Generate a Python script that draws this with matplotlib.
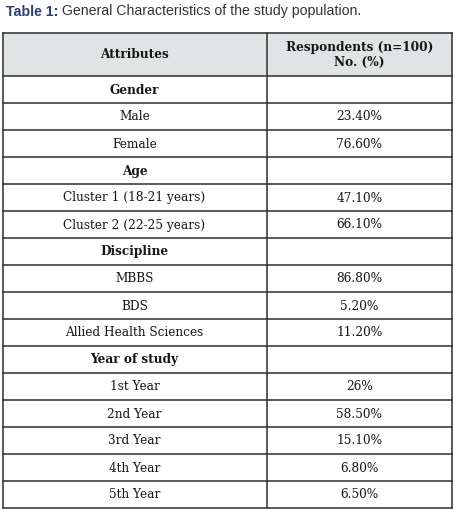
import matplotlib
matplotlib.use("Agg")
import matplotlib.pyplot as plt
from matplotlib.patches import Rectangle
import matplotlib.transforms as mtrans

title_bold = "Table 1:"
title_rest = " General Characteristics of the study population."
header_left = "Attributes"
header_right = "Respondents (n=100)\nNo. (%)"
attributes = ["Gender", "Male", "Female", "Age", "Cluster 1 (18-21 years)",
              "Cluster 2 (22-25 years)", "Discipline", "MBBS", "BDS",
              "Allied Health Sciences", "Year of study", "1st Year", "2nd Year",
              "3rd Year", "4th Year", "5th Year"]
values = ["", "23.40%", "76.60%", "", "47.10%", "66.10%", "", "86.80%",
          "5.20%", "11.20%", "", "26%", "58.50%", "15.10%", "6.80%", "6.50%"]
is_section = [True, False, False, True, False, False, True, False, False,
              False, True, False, False, False, False, False]

W, H = 455, 511
fig = plt.figure(figsize=(W / 100, H / 100), dpi=100)
ax = fig.add_axes([0, 0, 1, 1])
ax.set_xlim(0, W)
ax.set_ylim(H, 0)
ax.axis("off")

left, mid, right = 2.5, 266.5, 452
top, head_bot = 33.5, 76.5
row_h = 27.0
nrows = len(attributes)
bottom = head_bot + row_h * nrows

line_c = "#2e2e2e"
text_c = "#161616"
serif = ["DejaVu Serif"]
fs = 8.7

# title
tfs = 10.2
t = ax.text(6, 11.5, title_bold, fontsize=tfs, fontweight="bold", color="#2c3d7c",
            family=["Liberation Sans"], va="center", ha="left")
fig.canvas.draw()
bb = t.get_window_extent()
ax.text(bb.x1, 11.5, title_rest, fontsize=tfs, color="#333333",
        family=["Liberation Sans"], va="center", ha="left",
        transform=mtrans.blended_transform_factory(mtrans.IdentityTransform(), ax.transData))

# header background
ax.add_patch(Rectangle((left, top), right - left, head_bot - top,
                       facecolor="#dfe4e4", edgecolor="none", zorder=0))

# lines
lw = 1.1
ax.plot([left, right], [top, top], color=line_c, lw=lw)
ax.plot([left, right], [head_bot, head_bot], color=line_c, lw=lw)
for i in range(nrows):
    y = head_bot + row_h * (i + 1)
    ax.plot([left, right], [y, y], color=line_c, lw=lw)
ax.plot([left, left], [top, bottom], color=line_c, lw=lw)
ax.plot([right, right], [top, bottom], color=line_c, lw=lw)
ax.plot([mid, mid], [top, bottom], color=line_c, lw=lw)

cx_l = (left + mid) / 2
cx_r = (mid + right) / 2
ax.text(cx_l, (top + head_bot) / 2, header_left, fontsize=fs, fontweight="bold",
        family=serif, ha="center", va="center", color=text_c)
ax.text(cx_r, (top + head_bot) / 2, header_right, fontsize=fs, fontweight="bold",
        family=serif, ha="center", va="center", color=text_c, linespacing=1.25)

for i, (a, v, s) in enumerate(zip(attributes, values, is_section)):
    yc = head_bot + row_h * (i + 0.5)
    ax.text(cx_l, yc, a, fontsize=fs, fontweight="bold" if s else "normal",
            family=serif, ha="center", va="center", color=text_c)
    if v:
        ax.text(cx_r, yc, v, fontsize=fs, family=serif, ha="center",
                va="center", color=text_c)

fig.savefig("out.png", dpi=100)
